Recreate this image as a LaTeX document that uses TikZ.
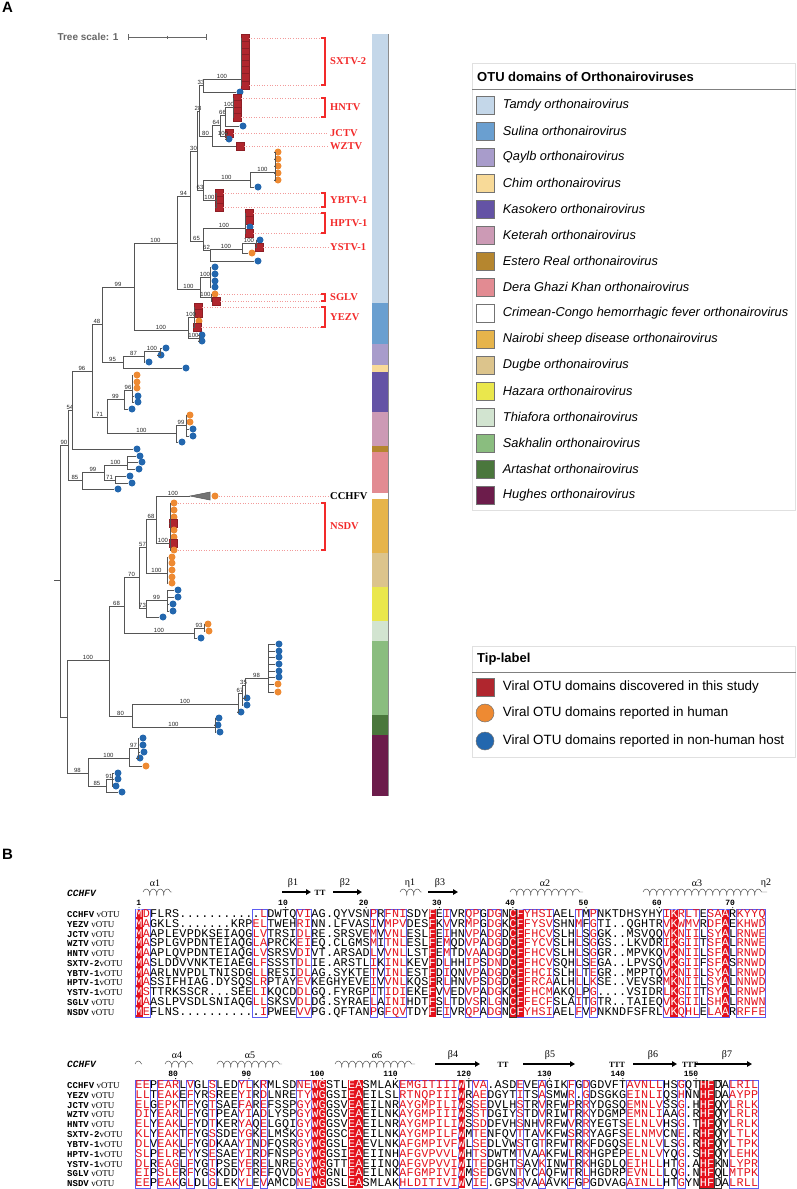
\documentclass[tikz,border=0pt]{standalone}
\usepackage{fontspec}
\setmainfont{Liberation Sans}
\setmonofont{Liberation Mono}
\newfontfamily\serifface{Liberation Serif}
\usepackage{tikz}
\usetikzlibrary{positioning}
\usetikzlibrary{calc}
\usetikzlibrary{arrows.meta}
\usetikzlibrary{decorations.pathmorphing}
% tip and clade colours
\definecolor{newred}{HTML}{B0262E}
\definecolor{humanorange}{HTML}{EE8A32}
\definecolor{hostblue}{HTML}{2367AE}
\definecolor{cladered}{HTML}{F22A2A}
\definecolor{dotred}{HTML}{F29A9A}
\definecolor{treegray}{HTML}{555555}
\definecolor{seqred}{HTML}{E4121C}
\definecolor{simblue}{HTML}{5C5CF2}
% genus colours
\definecolor{tamdy}{HTML}{C4D7E9}
\definecolor{sulina}{HTML}{6A9FD0}
\definecolor{qaylb}{HTML}{A89CCB}
\definecolor{chim}{HTML}{F8DA98}
\definecolor{kasokero}{HTML}{6453A5}
\definecolor{keterah}{HTML}{CC9AB5}
\definecolor{estero}{HTML}{B5862F}
\definecolor{dera}{HTML}{E28B92}
\definecolor{nairobi}{HTML}{E6B44B}
\definecolor{dugbe}{HTML}{DCC48C}
\definecolor{hazara}{HTML}{EAE74C}
\definecolor{thiafora}{HTML}{D2E4D0}
\definecolor{sakhalin}{HTML}{8ABD7F}
\definecolor{artashat}{HTML}{4A773C}
\definecolor{hughes}{HTML}{6C1C4B}
\tikzstyle{branch} = [draw=treegray, line width=0.7pt]
\tikzstyle{support} = [font=\fontsize{6}{6}\selectfont, text=black!85, above, inner sep=0.4pt]
\tikzstyle{newotu} = [rectangle, fill=newred, draw=newred!80!black, line width=0.2pt,
  minimum size=7.5pt, inner sep=0pt]
\tikzstyle{humotu} = [circle, fill=humanorange, minimum size=7pt, inner sep=0pt]
\tikzstyle{hostotu} = [circle, fill=hostblue, minimum size=7pt, inner sep=0pt]
\tikzstyle{tipline} = [dotted, draw=dotred, line width=0.6pt]
\tikzstyle{cladebracket} = [draw=cladered, line width=1.6pt]
\tikzstyle{cladename} = [font=\fontsize{10.5}{10.5}\serifface\bfseries\selectfont, text=cladered,
  inner sep=0pt]
\tikzstyle{legbox} = [rectangle, draw=black!55, line width=0.5pt, minimum size=18pt, inner sep=0pt]
\tikzstyle{legdot} = [circle, draw=black!55, line width=0.5pt, minimum size=18pt, inner sep=0pt]
\tikzstyle{legtext} = [font=\fontsize{12.8}{12.8}\selectfont, inner sep=1.5pt]
\tikzstyle{legtitle} = [font=\fontsize{13}{13}\bfseries\selectfont, anchor=west, inner sep=0pt]
\tikzstyle{res} = [font=\fontsize{11.8}{11.8}\ttfamily\selectfont, anchor=base, inner sep=0pt]
\tikzstyle{resnum} = [font=\fontsize{8}{8}\ttfamily\bfseries\selectfont, anchor=base east, inner sep=0pt]
\tikzstyle{seqname} = [font=\fontsize{9}{9}\selectfont, anchor=base west, inner sep=0pt]
\tikzstyle{sslabel} = [font=\fontsize{10}{10}\serifface\selectfont, inner sep=0pt]
\tikzstyle{turnmark} = [font=\fontsize{8}{8}\serifface\bfseries\selectfont, inner sep=0pt]
\tikzstyle{helix} = [decorate, decoration={coil, aspect=0.5, segment length=7pt, amplitude=3pt},
  line width=0.45pt, draw=black!75]
\tikzstyle{strand} = [line width=1.5pt, -{Triangle[length=5pt, width=5.5pt]}]
\tikzstyle{simbox} = [draw=simblue, line width=0.7pt]
% branches of the tree
\newcommand{\subclade}[3]{\draw[branch] (#1) |- (#2) node[support, pos=0.75] {#3};}
\newcommand{\leaves}[2]{%
  \foreach \kid in {#2} {\draw[branch] (#1) |- (\kid);}}
% clade tags on the right of the tree
\newcommand{\tagclade}[3]{%
  \draw[tipline] (#1) -- (#1 -| brk);
  \draw[tipline] (#2) -- (#2 -| brk);
  \draw[cladebracket] (#1 -| brk) -- (#1 -| brkv) -- (#2 -| brkv) -- (#2 -| brk);
  \node[cladename, anchor=west] (tag#3) at ($(#1 -| brkv)!0.5!(#2 -| brkv) + (5,0)$) {#3};}
\newcommand{\tagtip}[2]{%
  \draw[tipline] (#1) -- (#1 -| tagend);
  \node[cladename, anchor=west] (tag#2) at ($(#1 -| brkv) + (5,0)$) {#2};}
% alignment: colour of each column, then one residue per column
\newcounter{rescol}
\newcommand{\colclass}[3]{%
  \foreach \cl in {#3} {\expandafter\xdef\csname rc#1-\cl\endcsname{#2}}}
\newcommand{\seqput}[4]{%
  \ifcsname rc#1-\therescol\endcsname
    \edef\rescolor{\csname rc#1-\therescol\endcsname}%
  \else\def\rescolor{black}\fi
  \ifx.#4\def\rescolor{black}\fi
  \node[res, text=\rescolor] (r#1#2-\therescol) at ({139+7.33*(\therescol-1)},#3) {#4};}
\def\seqchars#1#2#3#4{%
  \ifx\relax#4\seqstop\fi
  \stepcounter{rescol}%
  \seqput{#1}{#2}{#3}{#4}%
  \seqchars{#1}{#2}{#3}}
\def\seqstop\fi#1\seqchars#2#3#4{\fi}
\newcommand{\seqrow}[4]{\setcounter{rescol}{0}\seqchars{#1}{#2}{#3}#4\relax}

\begin{document}
\begin{tikzpicture}[x=1pt, y=-1pt]
  \useasboundingbox (0,0) rectangle (796,1189);
  \node[font=\fontsize{15}{15}\bfseries\selectfont] (pa) at (7.5,7) {A};
  \node[font=\fontsize{15}{15}\bfseries\selectfont] (pb) at (7.5,854) {B};

  % tree scale
  \node[font=\fontsize{10}{10}\bfseries\selectfont, text=black!60] (ts) at (88,37) {Tree scale: 1};
  \draw[draw=black!60, line width=0.7pt] (128,37) -- (206,37);
  \draw[draw=black!60, line width=0.7pt] (128,34) -- (128,40) (167,35.5) -- (167,38.5) (206,34) -- (206,40);

  % tips: Tamdy
  \foreach \y [count=\i] in {38,45,52,58,64,70,77,85} \node[newotu] (sx\i) at (245,\y) {};
  \node[hostotu] (sxb) at (240,92) {};
  \foreach \y [count=\i] in {98,104,111,117} \node[newotu] (hn\i) at (237,\y) {};
  \node[hostotu] (hnb) at (243,126) {};
  \node[newotu] (jc) at (229,133) {};
  \node[hostotu] (jcb) at (229,139) {};
  \node[newotu] (wz) at (240,146) {};
  \foreach \y [count=\i] in {152,159,166,173,180} \node[humotu] (or\i) at (278,\y) {};
  \node[hostotu] (orb) at (258,187) {};
  \foreach \y [count=\i] in {193,200,207} \node[newotu] (yb\i) at (219,\y) {};
  \node[newotu] (hp1) at (249,213) {};
  \node[newotu] (hp2) at (249,220) {};
  \node[hostotu] (hpb) at (250,227) {};
  \node[newotu] (hp3) at (249,233) {};
  \node[hostotu] (ysb) at (260,240) {};
  \node[newotu] (ys) at (259,247) {};
  \node[humotu] (yso) at (252,253) {};
  \node[hostotu] (ysb2) at (258,261) {};
  \foreach \y [count=\i] in {267,274,281,287} \node[hostotu] (sg\i) at (215,\y) {};
  \node[humotu] (sgo) at (215,294) {};
  \node[newotu] (sgl) at (216,301) {};
  % Sulina
  \node[newotu] (ye1) at (198,307) {};
  \node[newotu] (ye2) at (198,313) {};
  \node[humotu] (yeo) at (199,321) {};
  \node[newotu] (ye3) at (197,327) {};
  \node[hostotu] (yeb1) at (202,335) {};
  \node[hostotu] (yeb2) at (202,341) {};
  % Qaylb, Chim
  \node[hostotu] (qa1) at (166,348) {};
  \node[hostotu] (qa2) at (161,355) {};
  \node[hostotu] (qa3) at (149,362) {};
  \node[hostotu] (qa4) at (186,368) {};
  % Kasokero, Keterah, Estero Real
  \foreach \y [count=\i] in {375,382,388} \node[humotu] (ka\i) at (137,\y) {};
  \node[hostotu] (ka4) at (138,396) {};
  \node[hostotu] (ka5) at (138,402) {};
  \node[hostotu] (ka6) at (132,409) {};
  \node[humotu] (ke1) at (190,415) {};
  \node[humotu] (ke2) at (190,422) {};
  \node[hostotu] (ke3) at (193,429) {};
  \node[hostotu] (ke4) at (193,436) {};
  \node[hostotu] (ke5) at (182,442) {};
  \node[hostotu] (es) at (137,449) {};
  % Dera Ghazi Khan
  \node[hostotu] (dg1) at (140,456) {};
  \node[hostotu] (dg2) at (142,462) {};
  \node[hostotu] (dg3) at (139,469) {};
  \node[hostotu] (dg4) at (130,476) {};
  \node[hostotu] (dg5) at (132,483) {};
  \node[hostotu] (dg6) at (118,489) {};
  % CCHFV, Nairobi sheep disease, Dugbe
  \node[humotu] (cc) at (215,496) {};
  \foreach \y [count=\i] in {503,510,517} \node[humotu] (ns\i) at (174,\y) {};
  \node[newotu] (ns4) at (173,523) {};
  \node[humotu] (ns5) at (174,530) {};
  \node[humotu] (ns6) at (174,537) {};
  \node[newotu] (ns7) at (173,543) {};
  \node[humotu] (ns8) at (174,550) {};
  \foreach \y [count=\i] in {557,563,570,577,583} \node[humotu] (du\i) at (172,\y) {};
  % Hazara, Thiafora
  \node[hostotu] (ha1) at (178,590) {};
  \node[hostotu] (ha2) at (178,597) {};
  \node[hostotu] (ha3) at (173,604) {};
  \node[hostotu] (ha4) at (173,611) {};
  \node[hostotu] (ha5) at (163,617) {};
  \node[humotu] (th1) at (208,624) {};
  \node[humotu] (th2) at (209,631) {};
  \node[hostotu] (th3) at (201,638) {};
  % Sakhalin, Artashat, Hughes
  \foreach \y [count=\i] in {644,651,657,664,671,677} \node[hostotu] (sa\i) at (279,\y) {};
  \node[humotu] (sa7) at (278,684) {};
  \node[humotu] (sa8) at (278,692) {};
  \node[hostotu] (sa9) at (247,698) {};
  \node[hostotu] (sa10) at (247,705) {};
  \node[hostotu] (sa11) at (241,712) {};
  \node[hostotu] (ar1) at (219,718) {};
  \node[hostotu] (ar2) at (218,725) {};
  \node[hostotu] (ar3) at (220,732) {};
  \node[hostotu] (hu1) at (143,738) {};
  \node[hostotu] (hu2) at (143,745) {};
  \node[hostotu] (hu3) at (144,752) {};
  \node[hostotu] (hu4) at (140,758) {};
  \node[humotu] (hu5) at (146,766) {};
  \node[hostotu] (hu6) at (118,773) {};
  \node[hostotu] (hu7) at (118,779) {};
  \node[hostotu] (hu8) at (116,786) {};
  \node[hostotu] (hu9) at (122,792) {};

  % inner nodes
  \coordinate (root) at (54,580);
  \coordinate (n0) at (60,580);
  \coordinate (nW) at (68,445);
  \coordinate (nY) at (72,410);
  \coordinate (nAA) at (92,371);
  \coordinate (nAB) at (102,324);
  \coordinate (nA) at (134,287);
  \coordinate (nB) at (177,243);
  \coordinate (nC) at (190,196);
  \coordinate (nE) at (197,151);
  \coordinate (nG) at (199,111);
  \coordinate (nI) at (203,85);
  \coordinate (nSX) at (241,79);
  \coordinate (nJ) at (212,136);
  \coordinate (nK) at (220,125);
  \coordinate (nL) at (225,115);
  \coordinate (nHN) at (233,107);
  \coordinate (nJC) at (226,136);
  \coordinate (nH) at (203,190);
  \coordinate (nN) at (250,180);
  \coordinate (nO) at (275,172);
  \coordinate (nYB) at (216,200);
  \coordinate (nF) at (203,241);
  \coordinate (nHP) at (245,228);
  \coordinate (nP) at (210,250);
  \coordinate (nQ) at (242,249);
  \coordinate (nR) at (256,243);
  \coordinate (nD) at (200,289);
  \coordinate (nS) at (210,277);
  \coordinate (nT) at (211,297);
  \coordinate (nYE) at (188,330);
  \coordinate (nU) at (194,317);
  \coordinate (nV) at (199,338);
  \coordinate (nAD) at (123,362);
  \coordinate (nAE) at (144,356);
  \coordinate (nAF) at (160,351);
  \coordinate (nAC) at (107,417);
  \coordinate (nAG) at (124,399);
  \coordinate (nAI) at (132,390);
  \coordinate (nAH) at (176,433);
  \coordinate (nAJ) at (186,425);
  \coordinate (nZ) at (82,480);
  \coordinate (nAK) at (104,472);
  \coordinate (nAL) at (127,465);
  \coordinate (nAM) at (115,480);
  \coordinate (nX0) at (67,717);
  \coordinate (nBA) at (109,660);
  \coordinate (nBC) at (124,606);
  \coordinate (nBE) at (139,577);
  \coordinate (nBG) at (146,547);
  \coordinate (nBI) at (156,519);
  \coordinate (nCC) at (190,496);
  \coordinate (nNS) at (170,543);
  \coordinate (nBJ) at (167,573);
  \coordinate (nBH) at (146,608);
  \coordinate (nBK) at (167,600);
  \coordinate (nBF) at (194,633);
  \coordinate (nTH) at (204,628);
  \coordinate (nBD) at (132,716);
  \coordinate (nBL) at (238,704);
  \coordinate (nBO) at (242,693);
  \coordinate (nBP) at (245,685);
  \coordinate (nBR) at (268,678);
  \coordinate (nBM) at (215,727);
  \coordinate (nBB) at (88,773);
  \coordinate (nBS) at (129,758);
  \coordinate (nBU) at (138,748);
  \coordinate (nBT) at (106,786);
  \coordinate (nBV) at (112,779);

  % branches
  \draw[branch] (root) -- (n0);
  \subclade{n0}{nW}{90}
  \leaves{n0}{nX0}
  \subclade{nW}{nY}{54}
  \subclade{nW}{nZ}{85}
  \subclade{nY}{nAA}{96}
  \leaves{nY}{es}
  \subclade{nAA}{nAB}{48}
  \subclade{nAA}{nAC}{71}
  \subclade{nAB}{nA}{99}
  \subclade{nAB}{nAD}{95}
  \subclade{nA}{nB}{100}
  \subclade{nA}{nYE}{100}
  \subclade{nB}{nC}{94}
  \subclade{nB}{nD}{100}
  \subclade{nC}{nE}{30}
  \subclade{nC}{nF}{65}
  \subclade{nE}{nG}{28}
  \subclade{nE}{nH}{63}
  \subclade{nG}{nI}{33}
  \subclade{nG}{nJ}{80}
  \subclade{nI}{nSX}{100}
  \leaves{nI}{sxb}
  \leaves{nSX}{sx1,sx2,sx3,sx4,sx5,sx6,sx7,sx8}
  \subclade{nJ}{nK}{64}
  \leaves{nJ}{wz}
  \subclade{nK}{nL}{66}
  \subclade{nK}{nJC}{100}
  \subclade{nL}{nHN}{100}
  \leaves{nL}{hnb}
  \leaves{nHN}{hn1,hn2,hn3,hn4}
  \leaves{nJC}{jc,jcb}
  \subclade{nH}{nN}{100}
  \subclade{nH}{nYB}{100}
  \subclade{nN}{nO}{100}
  \leaves{nN}{orb}
  \leaves{nO}{or1,or2,or3,or4,or5}
  \leaves{nYB}{yb1,yb2,yb3}
  \subclade{nF}{nHP}{100}
  \subclade{nF}{nP}{62}
  \leaves{nHP}{hp1,hp2,hpb,hp3}
  \subclade{nP}{nQ}{100}
  \leaves{nP}{ysb2}
  \subclade{nQ}{nR}{100}
  \leaves{nQ}{yso}
  \leaves{nR}{ysb,ys}
  \subclade{nD}{nS}{100}
  \subclade{nD}{nT}{100}
  \leaves{nS}{sg1,sg2,sg3,sg4}
  \leaves{nT}{sgo,sgl}
  \subclade{nYE}{nU}{100}
  \subclade{nYE}{nV}{100}
  \leaves{nU}{ye1,ye2,yeo,ye3}
  \leaves{nV}{yeb1,yeb2}
  \subclade{nAD}{nAE}{87}
  \leaves{nAD}{qa4}
  \subclade{nAE}{nAF}{100}
  \leaves{nAE}{qa3}
  \leaves{nAF}{qa1,qa2}
  \subclade{nAC}{nAG}{99}
  \subclade{nAC}{nAH}{100}
  \subclade{nAG}{nAI}{96}
  \leaves{nAG}{ka6}
  \leaves{nAI}{ka1,ka2,ka3,ka4,ka5}
  \subclade{nAH}{nAJ}{99}
  \leaves{nAH}{ke5}
  \leaves{nAJ}{ke1,ke2,ke3,ke4}
  \subclade{nZ}{nAK}{99}
  \leaves{nZ}{dg6}
  \subclade{nAK}{nAL}{100}
  \subclade{nAK}{nAM}{71}
  \leaves{nAL}{dg1,dg2,dg3}
  \leaves{nAM}{dg4,dg5}
  \subclade{nX0}{nBA}{100}
  \subclade{nX0}{nBB}{98}
  \subclade{nBA}{nBC}{68}
  \subclade{nBA}{nBD}{80}
  \subclade{nBC}{nBE}{70}
  \subclade{nBC}{nBF}{100}
  \subclade{nBE}{nBG}{57}
  \subclade{nBE}{nBH}{73}
  \subclade{nBG}{nBI}{68}
  \subclade{nBG}{nBJ}{100}
  \subclade{nBI}{nCC}{100}
  \subclade{nBI}{nNS}{100}
  \leaves{nNS}{ns1,ns2,ns3,ns4,ns5,ns6,ns7,ns8}
  \leaves{nBJ}{du1,du2,du3,du4,du5}
  \subclade{nBH}{nBK}{99}
  \leaves{nBH}{ha5}
  \leaves{nBK}{ha1,ha2,ha3,ha4}
  \subclade{nBF}{nTH}{93}
  \leaves{nBF}{th3}
  \leaves{nTH}{th1,th2}
  \subclade{nBD}{nBL}{100}
  \subclade{nBD}{nBM}{100}
  \subclade{nBL}{nBO}{67}
  \leaves{nBL}{sa11}
  \subclade{nBO}{nBP}{35}
  \leaves{nBO}{sa10}
  \subclade{nBP}{nBR}{98}
  \leaves{nBP}{sa9}
  \leaves{nBR}{sa1,sa2,sa3,sa4,sa5,sa6,sa7,sa8}
  \leaves{nBM}{ar1,ar2,ar3}
  \subclade{nBB}{nBS}{100}
  \subclade{nBB}{nBT}{85}
  \subclade{nBS}{nBU}{97}
  \leaves{nBS}{hu5}
  \leaves{nBU}{hu1,hu2,hu3,hu4}
  \subclade{nBT}{nBV}{91}
  \leaves{nBT}{hu9}
  \leaves{nBV}{hu6,hu7,hu8}
  % collapsed CCHFV clade
  \filldraw[fill=black!55, draw=treegray, line width=0.5pt] (nCC) -- (210,492) -- (210,500) -- cycle;

  % clade tags
  \coordinate (brk) at (321,0);
  \coordinate (brkv) at (325,0);
  \coordinate (tagend) at (328,0);
  \tagclade{sx1}{sx8}{SXTV-2}
  \tagclade{hn1}{hn4}{HNTV}
  \tagtip{jc}{JCTV}
  \tagtip{wz}{WZTV}
  \tagclade{yb1}{yb3}{YBTV-1}
  \tagclade{hp1}{hp3}{HPTV-1}
  \tagtip{ys}{YSTV-1}
  \tagclade{sgo}{sgl}{SGLV}
  \tagclade{ye1}{ye3}{YEZV}
  \draw[tipline] (cc) -- (cc -| tagend);
  \node[cladename, text=black, anchor=west] (tagCCHFV) at ($(cc -| brkv) + (5,0)$) {CCHFV};
  \tagclade{ns1}{ns8}{NSDV}

  % genus strip
  \foreach \top/\bot/\col in {34/303/tamdy, 303/344/sulina, 344/365/qaylb, 365/372/chim,
      372/412/kasokero, 412/446/keterah, 446/452/estero, 452/493/dera, 493/499/white,
      499/553/nairobi, 553/587/dugbe, 587/621/hazara, 621/641/thiafora, 641/715/sakhalin,
      715/735/artashat, 735/796/hughes}
    \fill[\col] (372,\top) rectangle (388,\bot);
  \draw[draw=black!45, line width=1.2pt] (388.6,34) -- (388.6,796);

  % legend of genera
  \draw[draw=black!12, line width=0.6pt] (472,63) rectangle (795.5,510);
  \node[legtitle] (legtitle) at (477,77) {OTU domains of Orthonairoviruses};
  \draw[draw=black!50, line width=0.8pt] (472,89) -- (795.5,89);
  \foreach \nm/\col [count=\i] in {Tamdy/tamdy, Sulina/sulina, Qaylb/qaylb, Chim/chim,
      Kasokero/kasokero, Keterah/keterah, Estero Real/estero, Dera Ghazi Khan/dera,
      Crimean-Congo hemorrhagic fever/white, Nairobi sheep disease/nairobi, Dugbe/dugbe,
      Hazara/hazara, Thiafora/thiafora, Sakhalin/sakhalin, Artashat/artashat, Hughes/hughes}
  {
    \node[legbox, fill=\col] (key\i) at (485,{79+26*\i}) {};
    \node[legtext, right=7pt of key\i] (keytext\i) {\itshape \nm\ orthonairovirus};
  }

  % legend of tips
  \draw[draw=black!12, line width=0.6pt] (472,646) rectangle (795.5,757);
  \node[legtitle] (tiptitle) at (477,659) {Tip-label};
  \draw[draw=black!50, line width=0.8pt] (472,672) -- (795.5,672);
  \node[legbox, fill=newred] (keynew) at (485,687) {};
  \node[legtext, right=7pt of keynew, font=\fontsize{13.4}{13.4}\selectfont] (keynewtext) {Viral OTU domains discovered in this study};
  \node[legdot, fill=humanorange] (keyhum) at (485,713) {};
  \node[legtext, right=7pt of keyhum, font=\fontsize{13.4}{13.4}\selectfont] (keyhumtext) {Viral OTU domains reported in human};
  \node[legdot, fill=hostblue] (keyhost) at (485,741) {};
  \node[legtext, right=7pt of keyhost, font=\fontsize{13.4}{13.4}\selectfont] (keyhosttext) {Viral OTU domains reported in non-human host};

  % alignment, first block
  \colclass{a}{seqred}{1,2,17,18,23,24,33,35,36,37,43,46,47,49,50,53,54,55,56,57,61,63,73,74,75,76,77,79,80,81,83,84,85,86}
  \colclass{a}{white}{1,41,52,53,74,81}
  \foreach \cl in {1,41,52,53,74,81}
    \fill[seqred] ({139+7.33*(\cl-1)-3.665},909) rectangle +(7.33,108);
  \foreach \a/\b in {1/2,17/18,23/24,33/33,35/37,43/43,46/47,49/50,53/57,61/61,63/63,73/75,76/77,79/81,83/86}
    \draw[simbox] ({139+7.33*(\a-1)-3.665},909) rectangle ({139+7.33*(\b-1)+3.665},1017);
  \draw[black!80, line width=1pt] ({139+7.33*51-3.665},909) rectangle +(7.33,108);
  \node[font=\fontsize{9.5}{9.5}\ttfamily\bfseries\itshape\selectfont, anchor=west, inner sep=0pt] (refa) at (67,893) {CCHFV};
  \node[sslabel] (a1) at (155,883) {α1};
  \draw[helix] (143,892) -- (172,892);
  \node[sslabel] (b1) at (293,883) {β1};
  \draw[strand] (282,892) -- (311,892);
  \node[turnmark] (tt1) at (320,893) {TT};
  \node[sslabel] (b2) at (345,883) {β2};
  \draw[strand] (333,892) -- (362,892);
  \node[sslabel] (e1) at (410,883) {η1};
  \draw[helix] (400,892) -- (422,892);
  \node[sslabel] (b3) at (440,883) {β3};
  \draw[strand] (428,892) -- (458,892);
  \node[sslabel] (a2) at (545,883) {α2};
  \draw[helix] (510,892) -- (583,892);
  \node[sslabel] (a3) at (697,883) {α3};
  \draw[helix] (643,892) -- (767,892);
  \node[sslabel] (e2) at (766,883) {η2};
  \foreach \cl/\n in {1/1,21/10,32/20,42/30,52/40,62/50,72/60,82/70}
  {
    \node[resnum] (numa\n) at ({139+7.33*(\cl-1)+2.4},905) {\n};
    \fill ({139+7.33*(\cl-1)},907.6) circle (0.6);
  }
  \seqrow{a}{1}{917.7}{MDFLRS...........LDWTQVIAG.QYVSNPRFNISDYFEIVRQPGDGNCFYHSIAELTMPNKTDHSYHYIKRLTESAARKYYQ}
  \seqrow{a}{2}{927.4}{MAGKLS.......KRPELTWEHRINN.LFVASIVMPVDESFKVVRMPGDGKCFFYSVSHNMFGTI..QGHTRVKWMVRDFAEKHWD}
  \seqrow{a}{3}{937.2}{MAAPLEVPDKSEIAQGLVTRSIDLRE.SRSVEMVVNLESLFEIHNVPADGDCFFHCVSLHLSGGK..MSVQQVKNIILSYALRNWE}
  \seqrow{a}{4}{946.9}{MASPLGVPDNTEIAQGLAPRCKEIEQ.CLGMSMITNLESLFEMQDVPADGDCFFYCVSLHLSGGS..LKVDRIKGIITSFALRNWE}
  \seqrow{a}{5}{956.6}{MAAPLQVPDNTEIAQGLVSRSVDIVT.ARSADLVVNLLSTFEMTDVAADGDCFFHCVSLHLSGGR..MPVKQVKNIILSFALRNWD}
  \seqrow{a}{6}{966.4}{MASLDDVVNKTEIAEGLFSSSTDLIE.ARSTLIKINLKEVFDLHHIPSDNDCFFHCVSQHLSEGA..LPVSQVKGIIFSFASRNWD}
  \seqrow{a}{7}{976.1}{MAARLNVPDLTNISDGLLRESIDLAG.SYKTETVINLESTFDIQNVPADGDCFFHCISLHLTEGR..MPPTQVKNIILSYALRNWD}
  \seqrow{a}{8}{985.8}{MASSIFHIAG.DYSQSLRPTAYEVKEGHYEVEIVVNLKQSFRLHNVPSDGDCFFRCAALHLLKSE..VEVSRMKNIILSYALNNWD}
  \seqrow{a}{9}{995.5}{MSTTRKSSCR...SEELIKQCDDLGQ.FYRGPITIDIEKEFVVEDVPADGKCFFHCMAKQLPG....VSIDRLKGIITSYALRNWP}
  \seqrow{a}{10}{1005.3}{MAASLPVSDLSNIAQGLLSKSVDLDG.SYRAELAINIHDTFSLTDVSRLGNCFFECFSLAITGTR..TAIEQVKGIILSHALRNWN}
  \seqrow{a}{11}{1015.0}{MEFLNS...........IPWEEVVPG.QFTANPGFQVTDYFEIVRQPADGNCFYHSIAELFVPNKNDFSFRLVKQHLELAARRFFE}

  % alignment, second block
  \colclass{b}{seqred}{1,2,4,5,6,8,11,15,16,18,23,24,37,38,39,40,41,42,43,44,47,48,53,56,60,62,68,69,70,71,72,75,82,83,84,85}
  \colclass{b}{white}{25,26,30,31,45,78,79}
  \foreach \cl in {25,26,30,31,45,78,79}
    \fill[seqred] ({139+7.33*(\cl-1)-3.665},1080) rectangle +(7.33,108);
  \foreach \a/\b in {1/2,4/6,8/8,11/11,15/16,18/18,23/24,37/44,47/48,53/53,56/56,60/60,62/62,68/72,75/75,82/85}
    \draw[simbox] ({139+7.33*(\a-1)-3.665},1080) rectangle ({139+7.33*(\b-1)+3.665},1188);
  \draw[black!80, line width=1pt] ({139+7.33*77-3.665},1080) rectangle +(14.66,108);
  \draw[black!80, line width=1pt] ({139+7.33*79-3.665},1080) rectangle +(7.33,108);
  \node[font=\fontsize{9.5}{9.5}\ttfamily\bfseries\itshape\selectfont, anchor=west, inner sep=0pt] (refb) at (67,1064) {CCHFV};
  \draw[helix] (135,1064) -- (142,1064);
  \node[sslabel] (a4) at (177,1055) {α4};
  \draw[helix] (165,1064) -- (193,1064);
  \node[sslabel] (a5) at (250,1055) {α5};
  \draw[helix] (217,1064) -- (282,1064);
  \node[sslabel] (a6) at (377,1055) {α6};
  \draw[helix] (335,1064) -- (415,1064);
  \node[sslabel] (b4) at (453,1055) {β4};
  \draw[strand] (435,1064) -- (480,1064);
  \node[turnmark] (tt2) at (503,1065) {TT};
  \node[sslabel] (b5) at (550,1055) {β5};
  \draw[strand] (523,1064) -- (575,1064);
  \node[turnmark] (tt3) at (617,1065) {TTT};
  \node[sslabel] (b6) at (653,1055) {β6};
  \draw[strand] (633,1064) -- (677,1064);
  \node[turnmark] (tt4) at (690,1065) {TTT};
  \node[sslabel] (b7) at (727,1055) {β7};
  \draw[strand] (695,1064) -- (752,1064);
  \foreach \cl/\n in {6/80,16/90,26/100,36/110,46/120,57/130,67/140,77/150}
  {
    \node[resnum] (numb\n) at ({139+7.33*(\cl-1)+2.4},1076) {\n};
    \fill ({139+7.33*(\cl-1)},1078.6) circle (0.6);
  }
  \seqrow{b}{1}{1088.4}{EEPEARLVGLSLEDYLKRMLSDNEWGSTLEASMLAKEMGITIIIWTVA.ASDEVEAGIKFGDGDVFTAVNLLHSGQTHFDALRIL}
  \seqrow{b}{2}{1098.2}{LLTEAKEFYRSREEYIRDLNRETYWGGSIEAEILSLRTNQPIIIWRAEDGYTITSASMWR.GDSGKGEINLIQSHNNHFDAAYPP}
  \seqrow{b}{3}{1108.1}{ELGEPKTFYGTSAEFAREFSSPGYWGGSVEAEILNRAYGMPILIWSSEDVLHSTRVRFWPRRYDGSQEMNLVSSG.HHFQYLRLK}
  \seqrow{b}{4}{1117.9}{DIYEARLFYGTPEAYIADLYSPGYWGGSVEAEILNKAYGMPIIIWSSTDGIYSTDVRIWTRKYDGMPEMNLIAAG.RHFQYLRLR}
  \seqrow{b}{5}{1127.7}{ELYEAKLFYDTKERYAQELGQIGYWGGSVEAEILNRAYGMPILIWSSDDFVHSNHVRFWVRRYEGTSELNLVHSG.THFQYLRLK}
  \seqrow{b}{6}{1137.6}{KLYEAKTFYGSSDEYGKELMSKGYWGGSCEAEILNKAYGMPILFWMTENFQVTTAVKFWSRRYAGFSELNMVCNE.RHFQYLTLK}
  \seqrow{b}{7}{1147.4}{DLVEAKLFYGDKAAYINDFQSRGYWGGSLEAEVLNKAFGMPIVFWLSEDLVWSTGTRFWTRKFDGQSELNLVLSG.RHFQYLTPK}
  \seqrow{b}{8}{1157.2}{SLPELREYYSESAEYIRDFNSPGYWGGSIEAEIINHAFGVPVVLWHTSDWTMTVAAKFWLRRHGPEPELNLVYQG.SHFQYLEHK}
  \seqrow{b}{9}{1167.0}{DLREAGLFYGTPSEYERELNREGYWGGTTEAEIINQAFGVPVVIWITEDGHTSAVKINWTRKHGDLQEIHLLHTG.AHFKNLYPR}
  \seqrow{b}{10}{1176.9}{EIPSLERFYGSKDDYIREFQVDGYWGGNLEAEILNKAFGMPIVIWMSEDGVNTYCAQFWTRLHGDRPEVNLLLQG.NHFQLMTPK}
  \seqrow{b}{11}{1186.7}{EEPEAKGLDLGLEKYLEVAMCDNEWGGSLEASMLAKHLDITIVIWVIE.GPSRVAAAVKFGPGDVAGAINLLHTGYNHFDALRLL}

  % sequence names
  \foreach \nm/\gap [count=\i] in {CCHFV/1,YEZV/1,JCTV/1,WZTV/1,HNTV/1,SXTV-2/0,YBTV-1/0,HPTV-1/0,YSTV-1/0,SGLV/1,NSDV/1}
  {
    \node[seqname] (nama\i) at (67,{917.7+9.73*(\i-1)}) {{\ttfamily\bfseries \nm}\ifnum\gap=1\ \fi{\serifface vOTU}};
    \node[seqname] (namb\i) at (67,{1088.4+9.83*(\i-1)}) {{\ttfamily\bfseries \nm}\ifnum\gap=1\ \fi{\serifface vOTU}};
  }
\end{tikzpicture}
\end{document}
